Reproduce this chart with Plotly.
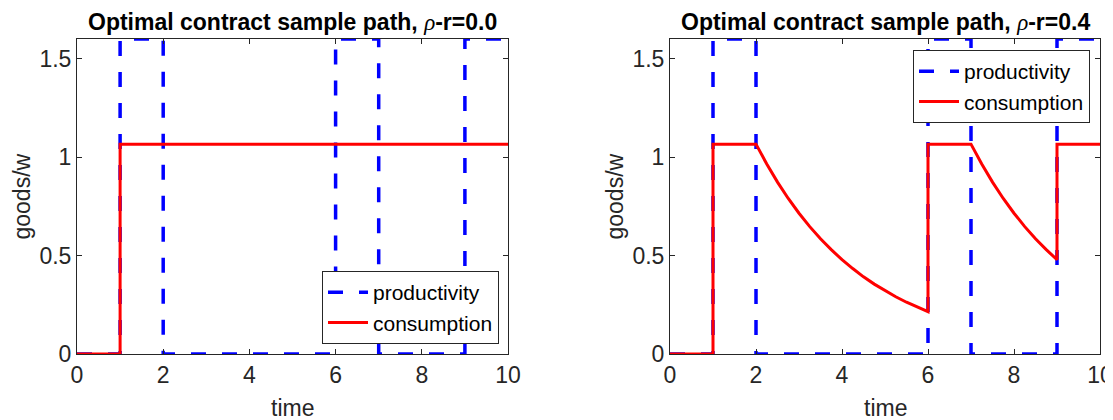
import plotly.graph_objects as go

# ── data ────────────────────────────────────────────────────────────────────
prod_t = [0, 1, 1, 2, 2, 6, 6, 7, 7, 9, 9, 10]
prod_y = [0, 0, 1.6, 1.6, 0, 0, 1.6, 1.6, 0, 0, 1.6, 1.6]

cons0_t = [0, 1, 1, 10]
cons0_y = [0, 0, 1.066, 1.066]

cons4_t = [0, 1, 1, 2, 2.25, 2.5, 2.75, 3, 3.25, 3.5, 3.75, 4, 4.25, 4.5, 4.75,
           5, 5.25, 5.5, 5.75, 6, 6, 7, 7.25, 7.5, 7.75, 8, 8.25, 8.5, 8.75,
           9, 9, 10]
cons4_y = [0, 0, 1.066, 1.066, 0.965, 0.873, 0.790, 0.715, 0.647, 0.585, 0.530,
           0.479, 0.434, 0.392, 0.355, 0.321, 0.291, 0.263, 0.238, 0.215,
           1.066, 1.066, 0.965, 0.873, 0.790, 0.715, 0.647, 0.585, 0.530,
           0.479, 1.066, 1.066]

title_text = "Optimal contract sample path, "
rho_r = ["0.0", "0.4"]
x_ticks = [0, 2, 4, 6, 8, 10]
y_ticks = [0, 0.5, 1, 1.5]
y_ticktext = ["0", "0.5", "1", "1.5"]

# page has an 8px body margin: build the figure in page pixels minus that
OFF = 8
W, H = 1113 - OFF, 420 - OFF
BLUE = "#0000FF"
RED = "#FF0000"
AX = "#262626"
FONT = "Liberation Sans, Arial, sans-serif"


def px_x(p):
    return (p - OFF) / W


def px_y(p):
    return 1 - (p - OFF) / H


# axes boxes in page pixels (left, right, top, bottom)
boxes = [(77, 508, 39, 354), (670, 1100, 39, 354)]

fig = go.Figure()

for i, (ct, cy) in enumerate([(cons0_t, cons0_y), (cons4_t, cons4_y)]):
    xa = "x" if i == 0 else "x2"
    ya = "y" if i == 0 else "y2"
    lg = "legend" if i == 0 else "legend2"
    fig.add_trace(go.Scatter(
        x=prod_t, y=prod_y, mode="lines", name="productivity",
        line=dict(color=BLUE, width=3.5, dash="15px,16px"),
        xaxis=xa, yaxis=ya, legend=lg,
    ))
    fig.add_trace(go.Scatter(
        x=ct, y=cy, mode="lines", name="consumption",
        line=dict(color=RED, width=3),
        xaxis=xa, yaxis=ya, legend=lg,
    ))

axis_common = dict(
    showgrid=False, zeroline=False, showline=True, linecolor=AX, linewidth=1,
    mirror="ticks", ticks="inside", ticklen=5, tickcolor=AX, automargin=False,
    tickfont=dict(family=FONT, size=23, color=AX),
)

layout = dict(
    width=W, height=H,
    margin=dict(l=0, r=0, t=0, b=0),
    plot_bgcolor="white", paper_bgcolor="white",
    font=dict(family=FONT, color=AX),
    annotations=[],
)

for i, (l, r, t, b) in enumerate(boxes):
    sfx = "" if i == 0 else "2"
    layout["xaxis" + sfx] = dict(
        axis_common, domain=[px_x(l), px_x(r)], range=[0, 10],
        tickvals=x_ticks, anchor="y" + sfx,
    )
    layout["yaxis" + sfx] = dict(
        axis_common, domain=[px_y(b), px_y(t)], range=[0, 1.6],
        tickvals=y_ticks, ticktext=y_ticktext, anchor="x" + sfx,
    )
    # title
    layout["annotations"].append(dict(
        xref="paper", yref="paper", x=px_x((l + r) / 2), y=px_y(37),
        xanchor="center", yanchor="bottom", showarrow=False,
        text="<b>" + title_text + "</b><i style='font-family:Liberation Serif'>ρ</i><b>-r=" + rho_r[i] + "</b>",
        font=dict(family=FONT, size=23, color="black"),
    ))
    # x label
    layout["annotations"].append(dict(
        xref="paper", yref="paper", x=px_x((l + r) / 2), y=px_y(408),
        xanchor="center", yanchor="middle", showarrow=False,
        text="time", font=dict(family=FONT, size=23, color=AX),
    ))
    # y label
    layout["annotations"].append(dict(
        xref="paper", yref="paper", x=px_x(l - 55), y=px_y((t + b) / 2),
        xanchor="center", yanchor="middle", showarrow=False, textangle=-90,
        text="goods/w", font=dict(family=FONT, size=23, color=AX),
    ))

legend_common = dict(
    bgcolor="white", bordercolor=AX, borderwidth=1,
    font=dict(family=FONT, size=21, color="black"),
    tracegroupgap=0, itemwidth=40,
)
layout["legend"] = dict(legend_common, x=px_x(499), xanchor="right",
                        y=px_y(344), yanchor="bottom")
layout["legend2"] = dict(legend_common, x=px_x(1090), xanchor="right",
                         y=px_y(50), yanchor="top")

fig.update_layout(**layout)
fig.write_html("out.html")
